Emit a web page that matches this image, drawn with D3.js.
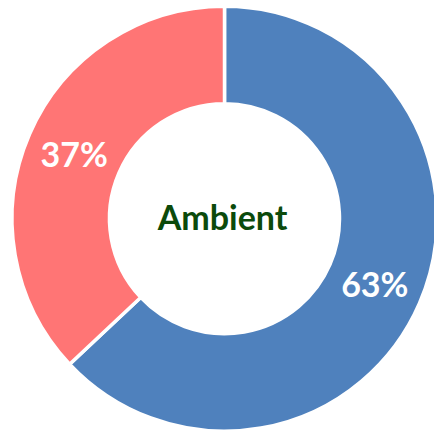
<!DOCTYPE html>
<html>
<head>
<meta charset="utf-8">
<script src="https://cdn.jsdelivr.net/npm/d3@7"></script>
<style>
  html, body { margin: 0; padding: 0; background: #fff; }
  svg { display: block; }
</style>
</head>
<body>
<svg id="chart" width="434" height="434"></svg>
<script>
// Share of each category, in percent
const categories = ["Blue", "Red"];
const values = [63, 37];
const colors = ["#4f81bd", "#ff7575"];
const centerLabel = "Ambient";

const svg = d3.select("#chart");
const cx = 224.5, cy = 218.7;
const outerR = 212.5, innerR = 115;

const g = svg.append("g").attr("transform", `translate(${cx},${cy})`);

const pie = d3.pie().sort(null).value(d => d.value);
const data = categories.map((c, i) => ({ name: c, value: values[i], color: colors[i] }));
const arcs = pie(data);

const arc = d3.arc().innerRadius(innerR).outerRadius(outerR);

g.selectAll("path.slice")
  .data(arcs)
  .join("path")
  .attr("class", "slice")
  .attr("d", arc)
  .attr("fill", d => d.data.color)
  .attr("stroke", "#fff")
  .attr("stroke-width", 3.5)
  .attr("stroke-linejoin", "miter");

const total = d3.sum(values);
g.selectAll("text.pct")
  .data(arcs)
  .join("text")
  .attr("class", "pct")
  .attr("transform", d => `translate(${arc.centroid(d)})`)
  .attr("text-anchor", "middle")
  .attr("dy", "0.38em")
  .attr("font-family", "Lato, 'Open Sans', sans-serif")
  .attr("font-weight", 700)
  .attr("font-size", 34)
  .attr("fill", "#fff")
  .text(d => Math.round(d.data.value / total * 100) + "%");

g.append("text")
  .attr("text-anchor", "middle")
  .attr("x", -2)
  .attr("y", 11.5)
  .attr("font-family", "Lato, 'Open Sans', sans-serif")
  .attr("font-weight", 700)
  .attr("font-size", 34)
  .attr("fill", "#0b4a0b")
  .text(centerLabel);
</script>
</body>
</html>
